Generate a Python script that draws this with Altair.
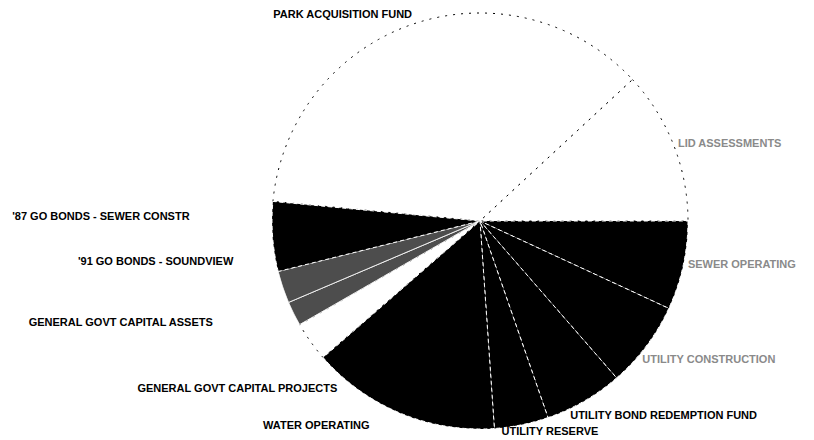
import math
import altair as alt
import pandas as pd

# Slices listed clockwise starting at 3 o'clock; shares in percent
funds = [
    "SEWER OPERATING",
    "UTILITY CONSTRUCTION",
    "UTILITY BOND REDEMPTION FUND",
    "UTILITY RESERVE",
    "WATER OPERATING",
    "GENERAL GOVT CAPITAL PROJECTS",
    "GENERAL GOVT CAPITAL ASSETS",
    "'91 GO BONDS - SOUNDVIEW",
    "'87 GO BONDS - SEWER CONSTR",
    "PARK ACQUISITION FUND",
    "LID ASSESSMENTS",
]
shares = [6.9, 6.7, 6.1, 4.2, 14.7, 3.1, 1.9, 2.5, 5.4, 36.6, 11.9]
pattern = ["solid", "solid", "solid", "solid", "solid", "blank",
           "hatched", "hatched", "solid", "blank", "blank"]

df = pd.DataFrame({"fund": funds, "share": shares, "pattern": pattern,
                   "order": list(range(len(funds)))})

base = alt.Chart(df).transform_window(
    end="sum(share)", sort=[alt.SortField("order")], frame=[None, 0]
).transform_calculate(
    start="datum.end - datum.share", mid="datum.end - datum.share / 2"
)

theta_scale = alt.Scale(domain=[0, 100], range=[math.pi / 2, math.pi / 2 + 2 * math.pi])

# look of each fill pattern: (fill, stroke, dash)
pattern_look = {
    "blank": ("#ffffff", "#000000", [2, 6]),
    "hatched": ("#4d4d4d", "#ffffff", [1, 0]),
    "solid": ("#000000", "#ffffff", [4, 3]),
}

arc_layers = []
for pat, (fill, stroke, dash) in pattern_look.items():
    arc_layers.append(
        base.transform_filter(alt.datum.pattern == pat).mark_arc(
            radius=208, fill=fill, stroke=stroke, strokeWidth=1, strokeDash=dash,
        ).encode(theta=alt.Theta("start:Q", scale=theta_scale), theta2="end:Q")
    )

# label placement tweaks: (align, dx, dy, colour)
label_style = {
    "SEWER OPERATING": ("left", -5, -3, "#8a8a8a"),
    "UTILITY CONSTRUCTION": ("left", -12, 8, "#8a8a8a"),
    "UTILITY BOND REDEMPTION FUND": ("left", -19, 6, "#000000"),
    "UTILITY RESERVE": ("left", -22, -3, "#000000"),
    "WATER OPERATING": ("right", -27, 4, "#000000"),
    "GENERAL GOVT CAPITAL PROJECTS": ("left", -165, 42, "#000000"),
    "GENERAL GOVT CAPITAL ASSETS": ("right", -72, 5, "#000000"),
    "'91 GO BONDS - SOUNDVIEW": ("right", -40, -28, "#000000"),
    "'87 GO BONDS - SEWER CONSTR": ("right", -73, -20, "#000000"),
    "PARK ACQUISITION FUND": ("right", 2, 0, "#000000"),
    "LID ASSESSMENTS": ("left", -5, 3, "#8a8a8a"),
}

texts = []
for name in funds:
    align, dx, dy, col = label_style[name]
    texts.append(
        base.transform_filter(alt.datum.fund == name).mark_text(
            radius=218, align=align, baseline="middle", dx=dx, dy=dy,
            font="Liberation Sans", fontSize=11, fontWeight="bold", color=col,
        ).encode(theta=alt.Theta("mid:Q", scale=theta_scale), text="fund:N")
    )

chart = alt.layer(*arc_layers, *texts).properties(
    width=652, height=426, autosize="none",
    padding={"left": 146, "top": 0, "right": 0, "bottom": 6},
    background="#ffffff",
).configure_view(stroke=None)

chart.save("out.html", embed_options={"renderer": "svg", "actions": False})
